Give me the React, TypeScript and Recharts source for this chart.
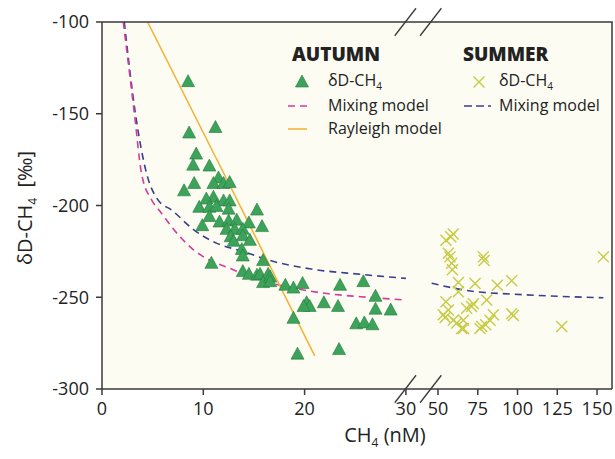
import React from "react";
import {
  ComposedChart,
  Scatter,
  Line,
  XAxis,
  YAxis,
  CartesianGrid,
  ReferenceLine,
} from "recharts";

// broken x axis: 0-30 linear, then 50-150 compressed
const GAP = 3.17;
const K = 0.157;
const X_MAX = 159.4;
const toAxis = (x: number) => (x <= 30 ? x : 30 + GAP + (x - 50) * K);

const X_TICK_LABELS = [0, 10, 20, 30, 50, 75, 100, 125, 150];
const Y_TICKS = [-300, -250, -200, -150, -100];

// autumn δD-CH4 [CH4 nM, ‰]
const AUTUMN = [
  [8.5, -132.5], [8.6, -160.5], [11.2, -157.5], [9.3, -172], [9.0, -178],
  [10.6, -178.5], [9.1, -188], [8.1, -192], [11.5, -185], [11.0, -188],
  [12.0, -188], [12.6, -187.5], [11.0, -195.5], [10.3, -196.5], [12.0, -197.5],
  [12.6, -197.5], [9.6, -201], [10.6, -201], [11.3, -200.5], [12.5, -202],
  [15.3, -202.5], [10.6, -206], [9.9, -211], [11.6, -209], [12.5, -208.5],
  [13.3, -208], [14.5, -209.5], [15.8, -211.5], [12.3, -213], [13.1, -213],
  [13.9, -213], [12.7, -217], [13.9, -216.5], [14.6, -219], [13.0, -219.5],
  [13.8, -224], [13.9, -227.5], [15.9, -230], [10.8, -231.5], [13.9, -236],
  [14.5, -237.5], [15.3, -238], [15.6, -237.5], [16.4, -237.5], [15.9, -242],
  [16.6, -239], [16.6, -241.5], [18.1, -243.5], [18.9, -245], [19.8, -242.5],
  [23.5, -243.5], [25.8, -241.5], [27.0, -249.5], [20.2, -253], [20.5, -255],
  [19.9, -255], [21.9, -253], [23.3, -255], [27.0, -256.5], [28.5, -257],
  [25.1, -264.5], [25.9, -264], [26.7, -265], [18.9, -261.5], [19.3, -281],
  [23.4, -278.5],
];

// summer δD-CH4
const SUMMER = [
  [55, -219], [59.6, -215.5], [58, -217], [56.5, -226], [57.5, -228],
  [58.6, -231.5], [59, -235], [62.8, -242], [73.3, -242.5], [78.5, -228],
  [79, -230], [87.3, -243.5], [96.3, -241], [154, -228], [55, -252.5],
  [62.8, -247], [72.2, -253.5], [80.6, -251.5], [68, -256], [71.1, -255],
  [56.5, -257], [53.3, -259.5], [54.5, -261], [59.6, -262.5], [65.9, -262.5],
  [64.9, -267], [61.8, -264], [77.5, -266], [76.4, -267], [80, -265],
  [82.7, -262.5], [84.8, -259.5], [96.3, -259], [97.4, -260], [127.8, -266],
  [66, -267],
];

// model curves
const AUTUMN_MIXING = [
  [2.1, -100], [3.2, -150], [3.9, -182.5], [4.9, -197], [5.7, -203],
  [7.7, -217], [9.0, -224], [10.7, -230], [12.3, -233.5], [14.3, -238],
  [15.6, -240.5], [18.9, -245], [22.2, -248], [25.5, -249.7], [30, -251.5],
];
const RAYLEIGH = [[4.5, -100], [12.8, -191], [21.0, -282]];
const SUMMER_MIXING_LOW = [
  [2.2, -100], [3.3, -150], [4.4, -182.5], [5.4, -196], [7.0, -203],
  [9.0, -213], [11.3, -220.5], [13.9, -225], [16.6, -230], [20.5, -234.5],
  [25.5, -237.5], [30, -239.7],
];
const SUMMER_MIXING_HIGH = [[46, -242.4], [74, -247], [95, -248.2], [154, -250.3]];

const toRows = (pts: number[][]) => pts.map(([x, y]) => ({ x: toAxis(x), y }));

const AXIS = "#3a3a3a";
const GREEN = "#3DA35A";
const LIME = "#C7CB45";
const PINK = "#D43C9B";
const NAVY = "#3A3F8C";
const ORANGE = "#F2B43A";
const FONT = "'Open Sans', sans-serif";

// plot box (chart margins + axis sizes)
const PLOT = { left: 102, top: 22, right: 612, bottom: 389 };

const Triangle = (props: any) => {
  const { cx, cy } = props;
  return (
    <polygon
      points={`${cx},${cy - 7} ${cx - 6.5},${cy + 5} ${cx + 6.5},${cy + 5}`}
      fill={GREEN}
      stroke="#247a3c"
      strokeWidth={0.6}
    />
  );
};

const Cross = (props: any) => {
  const { cx, cy } = props;
  const r = 5.5;
  return (
    <g stroke={LIME} strokeWidth={1.4}>
      <line x1={cx - r} y1={cy - r} x2={cx + r} y2={cy + r} />
      <line x1={cx - r} y1={cy + r} x2={cx + r} y2={cy - r} />
    </g>
  );
};

const xTicks = X_TICK_LABELS.map(toAxis);
const formatX = (t: number) => {
  const i = xTicks.findIndex((v) => Math.abs(v - t) < 1e-6);
  return i >= 0 ? String(X_TICK_LABELS[i]) : "";
};

const breakMarks = (yc: number) => [
  [28.9, 31.0],
  [31.4, 33.5],
].map(([a, b], i) => (
  <ReferenceLine
    key={`${yc}-${i}`}
    segment={[{ x: a, y: yc - 7.5 }, { x: b, y: yc + 7.5 }]}
    stroke={AXIS}
    strokeWidth={1.3}
    ifOverflow="visible"
  />
));

const legendText: React.CSSProperties = {
  position: "absolute",
  fontFamily: FONT,
  fontSize: 16,
  color: "#222",
  lineHeight: "20px",
  whiteSpace: "nowrap",
};

export default function App() {
  const xEnd = toAxis(X_MAX);
  return (
    <div style={{ position: "absolute", left: 0, top: 0, width: 615, height: 459, background: "#fff" }}>
      <ComposedChart
        width={615}
        height={459}
        margin={{ top: PLOT.top, right: 615 - PLOT.right, left: 0, bottom: 30 }}
      >
        <CartesianGrid horizontal={false} vertical={false} fill="#FDFCF3" />
        <XAxis
          type="number"
          dataKey="x"
          domain={[0, xEnd]}
          ticks={xTicks}
          tickFormatter={formatX}
          interval={0}
          height={40}
          tickSize={6}
          tickMargin={7}
          stroke={AXIS}
          strokeWidth={1.5}
          tick={{ fill: "#222", fontSize: 18, fontFamily: FONT }}
          allowDataOverflow
        />
        <YAxis
          type="number"
          domain={[-300, -100]}
          ticks={Y_TICKS}
          interval={0}
          width={PLOT.left}
          tickSize={6}
          tickMargin={7}
          stroke={AXIS}
          strokeWidth={1.5}
          tick={{ fill: "#222", fontSize: 18, fontFamily: FONT }}
          allowDataOverflow
        />
        <Scatter data={toRows(AUTUMN)} dataKey="y" shape={Triangle} isAnimationActive={false} />
        <Scatter data={toRows(SUMMER)} dataKey="y" shape={Cross} isAnimationActive={false} />
        <Line data={toRows(SUMMER_MIXING_LOW)} dataKey="y" type="monotone" stroke={NAVY} strokeWidth={1.6} strokeDasharray="7 5" dot={false} isAnimationActive={false} />
        <Line data={toRows(SUMMER_MIXING_HIGH)} dataKey="y" type="monotone" stroke={NAVY} strokeWidth={1.6} strokeDasharray="7 5" dot={false} isAnimationActive={false} />
        <Line data={toRows(AUTUMN_MIXING)} dataKey="y" type="monotone" stroke={PINK} strokeWidth={1.6} strokeDasharray="7 5" dot={false} isAnimationActive={false} />
        <Line data={toRows(RAYLEIGH)} dataKey="y" type="linear" stroke={ORANGE} strokeWidth={1.6} dot={false} isAnimationActive={false} />
        {breakMarks(-100)}
        {breakMarks(-300)}
      </ComposedChart>

      {/* axis titles */}
      <div
        style={{
          position: "absolute",
          left: 26,
          top: 208,
          transform: "translate(-50%, -50%) rotate(-90deg)",
          fontFamily: FONT,
          fontSize: 20,
          color: "#222",
          whiteSpace: "nowrap",
        }}
      >
        δD-CH<sub style={{ fontSize: 12 }}>4</sub>&nbsp;&nbsp;[‰]
      </div>
      <div
        style={{
          position: "absolute",
          left: 385,
          top: 436,
          transform: "translate(-50%, -50%)",
          fontFamily: FONT,
          fontSize: 20,
          color: "#222",
          whiteSpace: "nowrap",
        }}
      >
        CH<sub style={{ fontSize: 12 }}>4</sub> (nM)
      </div>

      {/* frame edges + legend */}
      <div style={{ ...legendText, left: 292, top: 44, fontSize: 19, fontWeight: 800 }}>AUTUMN</div>
      <div style={{ ...legendText, left: 463, top: 44, fontSize: 19, fontWeight: 800 }}>SUMMER</div>
      <svg style={{ position: "absolute", left: 0, top: 0 }} width={615} height={459} pointerEvents="none">
        <path
          d={`M${PLOT.left},${PLOT.top} H${PLOT.right} V${PLOT.bottom}`}
          fill="none"
          stroke={AXIS}
          strokeWidth={1.5}
        />
        <Triangle cx={302} cy={82} />
        <line x1={288} y1={106} x2={307} y2={106} stroke={PINK} strokeWidth={1.6} strokeDasharray="7 5" />
        <line x1={288} y1={129} x2={307} y2={129} stroke={ORANGE} strokeWidth={1.6} />
        <Cross cx={479} cy={82} />
        <line x1={464} y1={106} x2={491} y2={106} stroke={NAVY} strokeWidth={1.6} strokeDasharray="8 4" />
      </svg>
      <div style={{ ...legendText, left: 328, top: 70 }}>
        δD-CH<sub style={{ fontSize: 10 }}>4</sub>
      </div>
      <div style={{ ...legendText, left: 328, top: 95 }}>Mixing model</div>
      <div style={{ ...legendText, left: 328, top: 118 }}>Rayleigh model</div>
      <div style={{ ...legendText, left: 499, top: 70 }}>
        δD-CH<sub style={{ fontSize: 10 }}>4</sub>
      </div>
      <div style={{ ...legendText, left: 499, top: 95 }}>Mixing model</div>
    </div>
  );
}
